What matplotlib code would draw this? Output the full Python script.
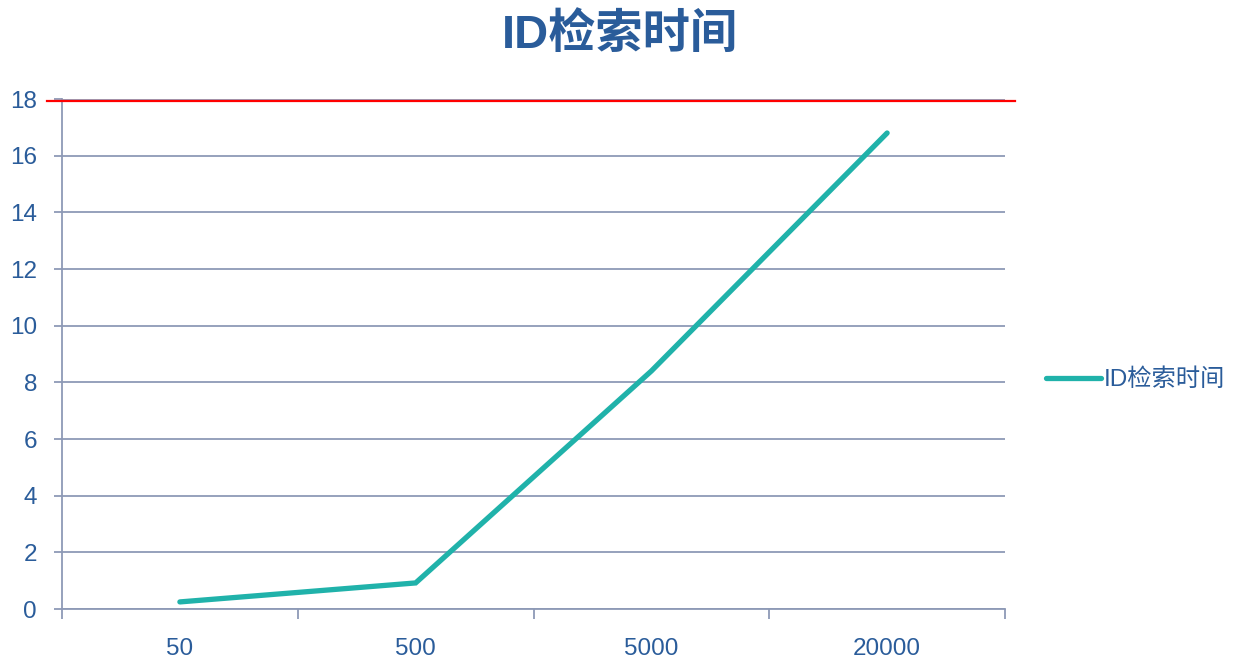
import matplotlib
matplotlib.use("Agg")
import matplotlib.pyplot as plt

plt.rcParams['font.family'] = ['Liberation Sans', 'Noto Sans CJK SC', 'DejaVu Sans']

categories = ['50', '500', '5000', '20000']
times = [0.25, 0.92, 8.4, 16.8]
y_ticks = list(range(0, 19, 2))
limit_line = 17.92

text_col = '#2A5C9A'
grid_col = '#8E9AB6'
line_col = '#20B2AA'

fig = plt.figure(figsize=(12.37, 6.6), dpi=100)
ax = fig.add_axes([62 / 1237, 1 - 609 / 660, (1005 - 62) / 1237, (609 - 99) / 660])

x = list(range(len(categories)))
ax.plot(x, times, color=line_col, linewidth=3.8, solid_capstyle='round',
        solid_joinstyle='miter', label='ID检索时间', zorder=3)

ax.set_xlim(-0.5, len(categories) - 0.5)
ax.set_ylim(0, 18)
ax.set_yticks(y_ticks)
ax.set_xticks(x)
ax.set_xticklabels(categories)
ax.set_xticks([i - 0.5 for i in range(len(categories) + 1)], minor=True)

ax.tick_params(axis='x', which='major', length=0, pad=21, labelsize=17.5, labelcolor=text_col)
ax.tick_params(axis='x', which='minor', length=7, width=1.3, color=grid_col, direction='out')
ax.tick_params(axis='y', length=6, width=1.3, color=grid_col, pad=12, labelsize=17.5,
               labelcolor=text_col)

ax.grid(axis='y', color=grid_col, linewidth=1.3)
ax.set_axisbelow(True)
for s in ['top', 'right']:
    ax.spines[s].set_visible(False)
for s in ['left', 'bottom']:
    ax.spines[s].set_color(grid_col)
    ax.spines[s].set_linewidth(1.3)

# red marker line across the top
ax.axhline(limit_line, xmin=-0.016, xmax=1.011, color='#FF0000', linewidth=1.6,
           clip_on=False, zorder=4)

fig.text(620 / 1237, 1 - 36 / 660, 'ID检索时间', ha='center', va='center',
         fontsize=34, fontweight='bold', color=text_col)

ax.legend(loc='center left', bbox_to_anchor=(1.043, 0.449), frameon=False,
          fontsize=17.5, labelcolor=text_col, handlelength=2.3, handletextpad=0.1,
          borderaxespad=0, borderpad=0)

fig.savefig('out.png', dpi=100)
